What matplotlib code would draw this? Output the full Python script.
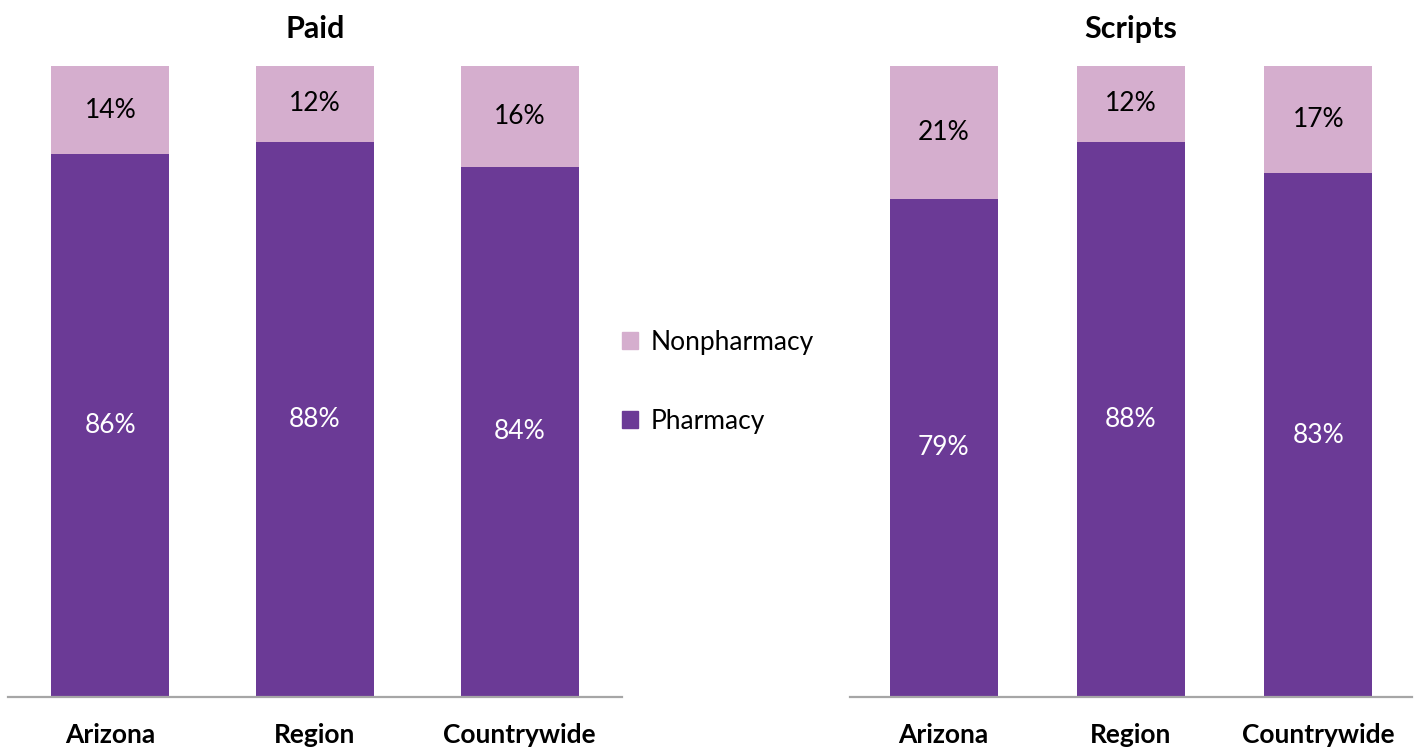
import numpy as np
import matplotlib
matplotlib.use("Agg")
import matplotlib.pyplot as plt
from matplotlib.patches import Patch

plt.rcParams["font.family"] = ["Lato", "DejaVu Sans"]

categories = ["Arizona", "Region", "Countrywide"]
paid_pharmacy = [86, 88, 84]
paid_nonpharmacy = [14, 12, 16]
scripts_pharmacy = [79, 88, 83]
scripts_nonpharmacy = [21, 12, 17]

PHARM = "#6B3A96"
NONPHARM = "#D5AECE"
AXIS_GREY = "#A6A6A6"


def draw_panel(ax, pharm, nonpharm, title, width):
    x = np.arange(len(categories))
    ax.bar(x, pharm, width=width, color=PHARM)
    ax.bar(x, nonpharm, width=width, bottom=pharm, color=NONPHARM)
    for xi, p, n in zip(x, pharm, nonpharm):
        ax.text(xi, p / 2, f"{p}%", ha="center", va="center", color="white", fontsize=19)
        ax.text(xi, p + n / 2, f"{n}%", ha="center", va="center", color="black", fontsize=19)
    ax.set_xlim(-0.5, 2.5)
    ax.set_ylim(0, 100)
    ax.set_xticks(x)
    ax.set_xticklabels(categories, fontsize=19, fontweight="bold")
    ax.tick_params(axis="x", length=0, pad=19)
    ax.set_yticks([])
    for s in ["top", "left", "right"]:
        ax.spines[s].set_visible(False)
    ax.spines["bottom"].set_color(AXIS_GREY)
    ax.spines["bottom"].set_linewidth(1.6)
    ax.set_title(title, fontsize=22, fontweight="bold", pad=20)


fig = plt.figure(figsize=(14.18, 7.51), dpi=100)
H = 751
W = 1418
ax1 = fig.add_axes([8 / W, (H - 697) / H, 614 / W, 631 / H])
ax2 = fig.add_axes([850 / W, (H - 697) / H, 562 / W, 631 / H])

draw_panel(ax1, paid_pharmacy, paid_nonpharmacy, "Paid", 0.575)
draw_panel(ax2, scripts_pharmacy, scripts_nonpharmacy, "Scripts", 0.575)

handles = [Patch(color=NONPHARM, label="Nonpharmacy"), Patch(color=PHARM, label="Pharmacy")]
fig.legend(handles=handles, loc="center left", bbox_to_anchor=(598 / W, 1 - 382 / H),
           frameon=False, fontsize=19, handlelength=0.6, handleheight=0.6,
           handletextpad=0.5, labelspacing=2.05)

fig.savefig("out.png", dpi=100, facecolor="white")
